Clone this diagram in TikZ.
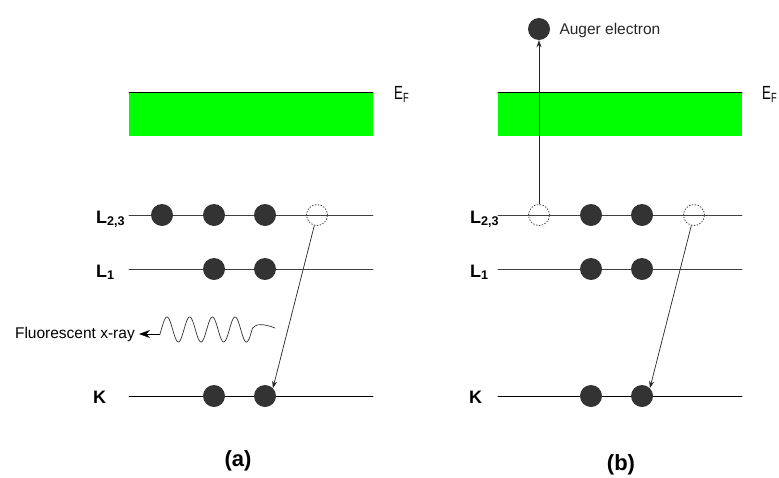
\documentclass[tikz,border=0pt]{standalone}
\usepackage{fontspec}
\setmainfont{Liberation Sans}
\usetikzlibrary{arrows.meta}

\definecolor{elecgray}{HTML}{333333}
\definecolor{bandgreen}{HTML}{00FF00}

\tikzset{
  elec/.style={circle,fill=elecgray,draw=none,minimum size=22pt,inner sep=0pt},
  hole/.style={circle,draw=black!70,dotted,line width=0.9pt,minimum size=21pt,inner sep=0pt},
  level/.style={draw=black!75,line width=0.8pt},
  trans/.style={-{Stealth[length=7pt,width=5pt]},line width=0.7pt,draw=black!85},
  lvllabel/.style={font=\fontsize{18}{18}\selectfont\bfseries,anchor=base west,inner sep=0pt},
  fermi/.style={font=\fontsize{19}{19}\selectfont,anchor=base west,inner sep=0pt},
  caption/.style={font=\fontsize{22}{22}\selectfont\bfseries},
}
\newcommand{\efermi}{\scalebox{0.7}[1]{E\textsubscript{F}}}

\begin{document}
\begin{tikzpicture}[x=1pt,y=-1pt,line cap=round,line join=round]
\useasboundingbox (0,0) rectangle (779,477);

% ---- panel (a): fluorescence
\fill[bandgreen] (129,92) rectangle (373,136);
\draw[line width=0.8pt] (129,92) -- (373,92);
\node[fermi] (efa) at (394,99) {\efermi};

\coordinate (a23l) at (129,215);
\coordinate (a23r) at (373,215);
\coordinate (a1l) at (129,269);
\coordinate (a1r) at (373,269);
\coordinate (akl) at (129,396);
\coordinate (akr) at (373,396);
\draw[level] (a23l) -- (a23r);
\draw[level] (a1l) -- (a1r);
\draw[line width=0.8pt] (akl) -- (akr);

\node[lvllabel] (la23) at (96,223) {L\textsubscript{2,3}};
\node[lvllabel] (la1) at (96,277) {L\textsubscript{1}};
\node[lvllabel] (lak) at (93,403) {K};

\node[elec] (ea231) at (162,215) {};
\node[elec] (ea232) at (214,215) {};
\node[elec] (ea233) at (265,215) {};
\node[hole] (holea) at (317,215) {};
\node[elec] (ea11) at (214,269) {};
\node[elec] (ea12) at (265,269) {};
\node[elec] (eak1) at (214,396) {};
\node[elec] (eak2) at (265,396) {};

\draw[trans] (holea) -- (eak2.north east);

% x-ray photon
\node[anchor=east,font=\fontsize{15.5}{15.5}\selectfont,inner xsep=4pt] (xray) at (139,334) {Fluorescent x-ray};
\coordinate (wave0) at (160,334);
\draw[line width=0.7pt,draw=black!80] plot[domain=160:252.5,samples=160,smooth]
  (\x,{329.5-12.5*sin(((\x-161.3)/22.7)*360)})
  .. controls (256,324) and (262,323) .. (275,328);
\draw[-{Stealth[length=11pt,width=8pt]},line width=0.9pt] (wave0) -- (xray.east);

\node[caption] (capa) at (238,461) {(a)};

% ---- panel (b): Auger
\fill[bandgreen] (498,92) rectangle (742,136);
\draw[line width=0.8pt] (498,92) -- (742,92);
\node[fermi] (efb) at (762,99) {\efermi};

\coordinate (b23l) at (498,215);
\coordinate (b23r) at (742,215);
\coordinate (b1l) at (498,269);
\coordinate (b1r) at (742,269);
\coordinate (bkl) at (498,396);
\coordinate (bkr) at (742,396);
\draw[level] (b23l) -- (b23r);
\draw[level] (b1l) -- (b1r);
\draw[line width=0.8pt] (bkl) -- (bkr);

\node[lvllabel] (lb23) at (470,223) {L\textsubscript{2,3}};
\node[lvllabel] (lb1) at (470,277) {L\textsubscript{1}};
\node[lvllabel] (lbk) at (469,403) {K};

\node[hole] (holeb1) at (539,215) {};
\node[elec] (eb231) at (591,215) {};
\node[elec] (eb232) at (642,215) {};
\node[hole] (holeb2) at (694,215) {};
\node[elec] (eb11) at (591,269) {};
\node[elec] (eb12) at (642,269) {};
\node[elec] (ebk1) at (591,396) {};
\node[elec] (ebk2) at (642,396) {};

\node[elec] (auger) at (539,29) {};
\node[anchor=west,font=\fontsize{15.5}{15.5}\selectfont,text=black!85] (augtxt) at (556,30) {Auger electron};

\draw[trans] (holeb1) -- (auger);
\draw[trans] (holeb2) -- (ebk2.north east);

\node[caption] (capb) at (621,465) {(b)};
\end{tikzpicture}
\end{document}
